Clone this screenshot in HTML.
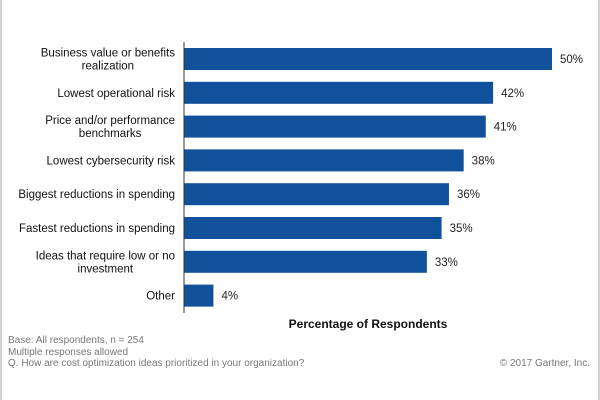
<!DOCTYPE html>
<html><head><meta charset="utf-8"><style>
body{margin:0;background:#fff;}
svg{display:block;font-family:"Liberation Sans",Arial,sans-serif;}
</style></head><body>
<svg id="chart" width="600" height="400">
<line x1="1" y1="0" x2="1" y2="400" stroke="#d0d0d0" stroke-width="2"/>
<line x1="599" y1="0" x2="599" y2="400" stroke="#d0d0d0" stroke-width="2"/>
<g id="bars"></g>
<line x1="184" y1="42" x2="184" y2="313" stroke="#333" stroke-width="1"/>
<text x="368" y="328" text-anchor="middle" font-size="12" font-weight="bold" fill="#111">Percentage of Respondents</text>
<g font-size="10" fill="#777">
<text x="8" y="343">Base: All respondents, n = 254</text>
<text x="8" y="355">Multiple responses allowed</text>
<text x="8" y="366">Q. How are cost optimization ideas prioritized in your organization?</text>
<text x="590" y="366" text-anchor="end">© 2017 Gartner, Inc.</text>
</g>
</svg>
<script>
const categories=[["Business value or benefits","realization"],["Lowest operational risk"],["Price and/or performance","benchmarks"],["Lowest cybersecurity risk"],["Biggest reductions in spending"],["Fastest reductions in spending"],["Ideas that require low or no","investment"],["Other"]];
const values=[50,42,41,38,36,35,33,4];
const valueLabels=["50%","42%","41%","38%","36%","35%","33%","4%"];
const NS="http://www.w3.org/2000/svg";
const x0=184, pxPer=7.36;
function xScale(v){return x0+v*pxPer;}
function yCenter(i){return 59+i*33.8;}
const g=document.getElementById('bars');
values.forEach((v,i)=>{
  const cy=yCenter(i);
  const r=document.createElementNS(NS,'rect');
  r.setAttribute('x',x0);r.setAttribute('y',cy-11);
  r.setAttribute('width',xScale(v)-x0);r.setAttribute('height',22);
  r.setAttribute('fill','#11519b');
  
  
  g.appendChild(r);
  const t=document.createElementNS(NS,'text');
  t.setAttribute('x',xScale(v)+8);t.setAttribute('y',cy+4);
  t.setAttribute('font-size','11.5');t.setAttribute('fill','#222');
  t.textContent=valueLabels[i];
  
  
  g.appendChild(t);
  const lines=categories[i];
  const l=document.createElementNS(NS,'text');
  l.setAttribute('text-anchor','end');l.setAttribute('font-size','11.5');l.setAttribute('fill','#111');
  
  
  const spans=[];
  lines.forEach((s,k)=>{
    const ts=document.createElementNS(NS,'tspan');
    ts.setAttribute('x',175);
    ts.setAttribute('y',cy+4+(k-(lines.length-1)/2)*13);
    ts.textContent=s;
    l.appendChild(ts);
    spans.push(ts);
  });
  g.appendChild(l);
  if(spans.length>1){
    let w=0;
    spans.forEach(s=>{w=Math.max(w,s.getComputedTextLength());});
    l.setAttribute('text-anchor','middle');
    spans.forEach(s=>s.setAttribute('x',175-w/2));
  }
});
</script>
</body></html>
